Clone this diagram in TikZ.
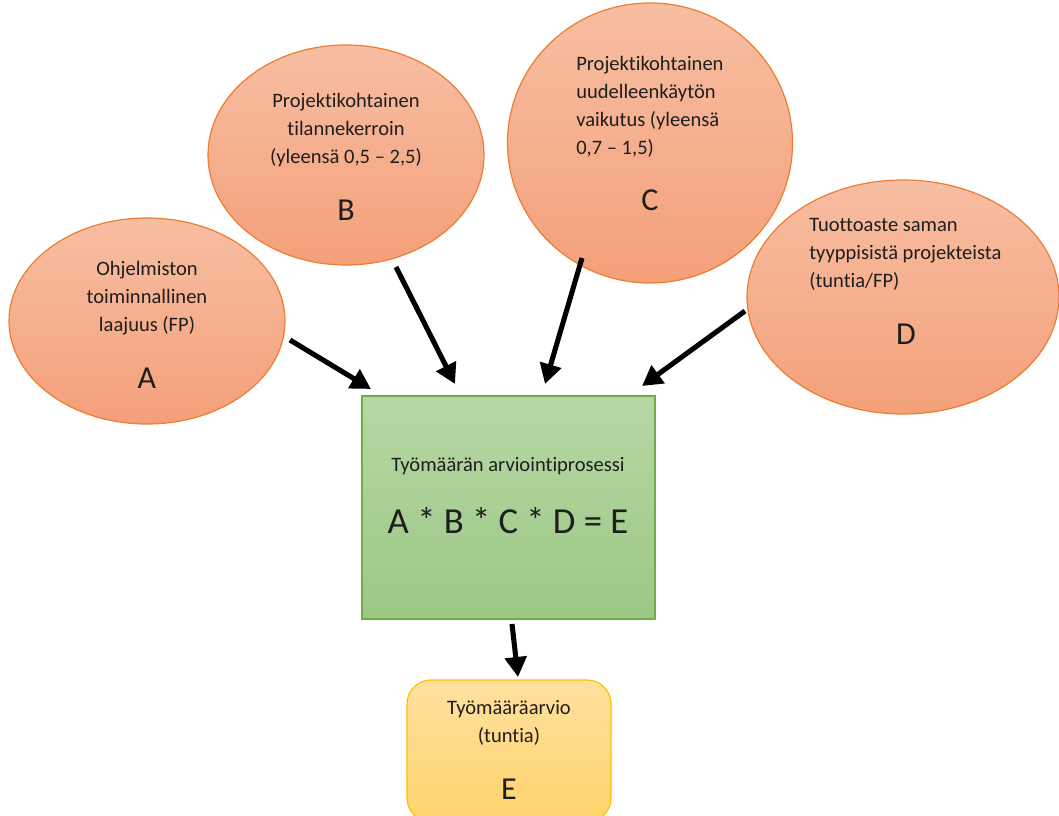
\documentclass[tikz,border=0pt]{standalone}
\usepackage{fontspec}
\setmainfont{Carlito}[Ligatures=NoCommon]
\usetikzlibrary{arrows.meta,shapes.geometric}
\definecolor{elltop}{RGB}{247,190,162}
\definecolor{ellbot}{RGB}{244,160,122}
\definecolor{ellline}{RGB}{237,125,49}
\definecolor{grtop}{RGB}{182,215,164}
\definecolor{grbot}{RGB}{156,200,133}
\definecolor{grline}{RGB}{112,173,71}
\definecolor{yetop}{RGB}{255,224,158}
\definecolor{yebot}{RGB}{255,212,108}
\definecolor{yeline}{RGB}{255,192,0}
\definecolor{txt}{RGB}{30,30,30}
\tikzset{
  inp/.style={ellipse, draw=ellline, line width=0.9pt, top color=elltop, bottom color=ellbot, inner sep=0pt},
  small/.style={font=\fontsize{15.4}{21}\selectfont, text=txt, inner sep=0pt},
  big/.style={font=\fontsize{24}{28}\selectfont, text=txt, inner sep=0pt},
  arr/.style={line width=3.8pt, -{Triangle[length=15pt,width=16pt]}},
}
\begin{document}
\begin{tikzpicture}[x=0.75pt,y=-0.75pt]
\useasboundingbox (0,0) rectangle (1059,816);
\clip (0,0) rectangle (1059,816);
\fill[white] (0,0) rectangle (1059,816);
% ellipses
\node[inp, minimum width=276*0.75pt, minimum height=206*0.75pt] (A) at (147,321) {};
\node[inp, minimum width=276*0.75pt, minimum height=220*0.75pt] (B) at (346,155) {};
\node[inp, minimum width=285*0.75pt, minimum height=280*0.75pt] (C) at (650,143) {};
\node[inp, minimum width=312*0.75pt, minimum height=234*0.75pt] (D) at (903,297) {};
% process box
\node[draw=grline, line width=0.9pt, top color=grtop, bottom color=grbot, minimum width=293*0.75pt, minimum height=223*0.75pt, inner sep=0pt] (P) at (508.5,507.5) {};
% result box
\node[draw=yeline, line width=0.9pt, rounded corners=18pt, top color=yetop, bottom color=yebot, minimum width=204*0.75pt, minimum height=142*0.75pt, inner sep=0pt] (R) at (509,751) {};
% texts A
\node[small, align=center] (tA) at (147,298) {Ohjelmiston\\toiminnallinen\\laajuus (FP)};
\node[big] (lA) at (147,378) {A};
% texts B
\node[small, align=center] (tB) at (346,130) {Projektikohtainen\\tilannekerroin\\(yleensä 0,5 – 2,5)};
\node[big] (lB) at (346,210) {B};
% texts C
\node[small, align=left, anchor=west] (tC) at (576,106.5) {Projektikohtainen\\uudelleenkäytön\\vaikutus (yleensä\\0,7 – 1,5)};
\node[big] (lC) at (650,200) {C};
% texts D
\node[small, align=left, anchor=west] (tD) at (809,254) {Tuottoaste saman\\tyyppisistä projekteista\\(tuntia/FP)};
\node[big] (lD) at (906,334) {D};
% process text
\node[small] (tP) at (508,466) {Työmäärän arviointiprosessi};
\node[font=\fontsize{27.5}{32}\selectfont, text=txt, inner sep=0pt] (fP) at (508,521) {A * B * C * D = E};
% result text
\node[small, align=center] (tR) at (509,723) {Työmääräarvio\\(tuntia)};
\node[big] (lR) at (509,789) {E};
% arrow end points
\coordinate (a1) at (290,340); \coordinate (a2) at (371,389);
\coordinate (b1) at (396,267); \coordinate (b2) at (455,384);
\coordinate (c1) at (582,258); \coordinate (c2) at (545,384);
\coordinate (d1) at (745,311); \coordinate (d2) at (642,386);
\coordinate (e1) at (512,624); \coordinate (e2) at (518,677);
\draw[arr] (a1) -- (a2);
\draw[arr] (b1) -- (b2);
\draw[arr] (c1) -- (c2);
\draw[arr] (d1) -- (d2);
\draw[arr] (e1) -- (e2);
\end{tikzpicture}
\end{document}
